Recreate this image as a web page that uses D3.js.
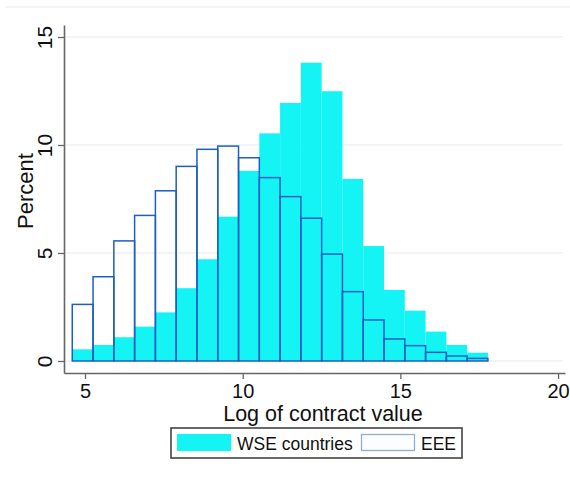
<!DOCTYPE html>
<html>
<head>
<meta charset="utf-8">
<script src="https://cdn.jsdelivr.net/npm/d3@7"></script>
<style>
  html, body { margin: 0; padding: 0; background: #fff; }
  svg { display: block; font-family: "Liberation Sans", Arial, sans-serif; }
</style>
</head>
<body>
<svg id="chart" width="570" height="497"></svg>
<script>
// ---- data ----
const binStart = 4.596;          // left edge of first bin (log of contract value)
const binWidth = 0.659;          // bin width
const wseValues = [0.54, 0.74, 1.10, 1.59, 2.25, 3.37, 4.71, 6.68, 8.80, 10.54,
                   11.95, 13.81, 12.49, 8.43, 5.32, 3.29, 2.33, 1.36, 0.74, 0.38];
const eeeValues = [2.62, 3.90, 5.56, 6.74, 7.88, 9.01, 9.80, 9.95, 9.41, 8.49,
                   7.61, 6.61, 4.95, 3.21, 1.90, 1.02, 0.71, 0.40, 0.23, 0.12];
const xTicks = [5, 10, 15, 20];
const yTicks = [0, 5, 10, 15];
const seriesNames = ["WSE countries", "EEE"];
const xTitle = "Log of contract value";
const yTitle = "Percent";

// ---- layout ----
const svg = d3.select("#chart");
const cyan = "#14f4f4";
const outline = "#1f5fbf";

const x = d3.scaleLinear().domain([4.334, 20.22]).range([64, 565]);
const y = d3.scaleLinear().domain([-0.556, 15.556]).range([373, 25]);

// faint top line (frame artifact)
svg.append("line").attr("x1", 5).attr("x2", 570).attr("y1", 7).attr("y2", 7)
  .attr("stroke", "#ececec").attr("stroke-width", 1.2);

// gridlines
svg.append("g").selectAll("line").data(yTicks).join("line")
  .attr("x1", 65).attr("x2", 563)
  .attr("y1", d => y(d)).attr("y2", d => y(d))
  .attr("stroke", "#e6ecee").attr("stroke-width", 1.2);

const wseBars = wseValues.map((v, i) => ({x0: binStart + i * binWidth, x1: binStart + (i + 1) * binWidth, v}));
const eeeBars = eeeValues.map((v, i) => ({x0: binStart + i * binWidth, x1: binStart + (i + 1) * binWidth, v}));

// WSE filled bars
svg.append("g").selectAll("rect").data(wseBars).join("rect")
  .attr("x", d => x(d.x0)).attr("width", d => x(d.x1) - x(d.x0))
  .attr("y", d => y(d.v)).attr("height", d => y(0) - y(d.v))
  .attr("fill", cyan);

// EEE outlined bars
svg.append("g").selectAll("rect").data(eeeBars).join("rect")
  .attr("x", d => x(d.x0)).attr("width", d => x(d.x1) - x(d.x0))
  .attr("y", d => y(d.v)).attr("height", d => y(0) - y(d.v))
  .attr("fill", "none").attr("stroke", outline).attr("stroke-width", 1.5);

// axes
const xAxis = d3.axisBottom(x).tickValues(xTicks).tickSizeInner(6).tickSizeOuter(0).tickPadding(3);
const gx = svg.append("g").attr("transform", "translate(0,373)").call(xAxis);
gx.select(".domain").attr("stroke", "#666").attr("stroke-width", 1.6);
gx.selectAll(".tick line").attr("stroke", "#666").attr("stroke-width", 1.3);
gx.selectAll(".tick text").attr("font-size", 20).attr("fill", "#111")
  .attr("font-family", "Liberation Sans, Arial, sans-serif")
  .attr("y", 24.5).attr("dy", 0);

const yAxis = d3.axisLeft(y).tickValues(yTicks).tickSizeInner(6).tickSizeOuter(0).tickPadding(0);
const gy = svg.append("g").attr("transform", "translate(64,0)").call(yAxis);
gy.select(".domain").attr("stroke", "#666").attr("stroke-width", 1.6);
gy.selectAll(".tick line").attr("stroke", "#666").attr("stroke-width", 1.3);
gy.selectAll(".tick text").attr("font-size", 21).attr("fill", "#111")
  .attr("font-family", "Liberation Sans, Arial, sans-serif")
  .attr("x", 0).attr("dy", 0)
  .attr("text-anchor", "middle")
  .attr("transform", "translate(-12,0) rotate(-90)");

// axis titles
svg.append("text").attr("x", 323).attr("y", 421).attr("text-anchor", "middle")
  .attr("font-size", 21.5).attr("fill", "#111").text(xTitle);
svg.append("text").attr("transform", "translate(33,191) rotate(-90)")
  .attr("text-anchor", "middle").attr("font-size", 22).attr("fill", "#111").text(yTitle);

// legend
const lg = svg.append("g");
lg.append("rect").attr("x", 171).attr("y", 428).attr("width", 291).attr("height", 30)
  .attr("fill", "#fff").attr("stroke", "#444").attr("stroke-width", 1.6);
lg.append("rect").attr("x", 177).attr("y", 434).attr("width", 54).attr("height", 17)
  .attr("fill", cyan);
lg.append("text").attr("x", 237).attr("y", 449.5).attr("font-size", 17.5).attr("fill", "#111")
  .text(seriesNames[0]);
lg.append("rect").attr("x", 361.5).attr("y", 434.5).attr("width", 53).attr("height", 16)
  .attr("fill", "#fbfdff").attr("stroke", "#8fb0cc").attr("stroke-width", 1.3);
lg.append("text").attr("x", 421).attr("y", 449.5).attr("font-size", 17.5).attr("fill", "#111")
  .text(seriesNames[1]);
</script>
</body>
</html>
